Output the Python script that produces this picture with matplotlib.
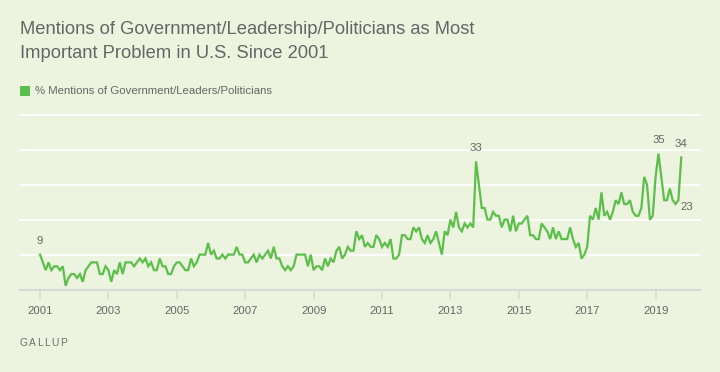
#!/usr/bin/env python3
"""
Gallup chart: mentions of government/leadership/politicians as the
most important problem in the U.S., monthly since 2001.
"""
import matplotlib
matplotlib.use("Agg")
import matplotlib.pyplot as plt
from matplotlib.patches import Rectangle
import numpy as np

# Monthly % mentions, Jan 2001 - Oct 2019
pct_2001_2005 = [
    9, 7, 5, 7, 5, 6, 6, 5, 6, 1, 3, 4,
    4, 3, 4, 2, 5, 6, 7, 7, 7, 4, 4, 6,
    5, 2, 5, 4, 7, 4, 7, 7, 7, 6, 7, 8,
    7, 8, 6, 7, 5, 5, 8, 6, 6, 4, 4, 6,
    7, 7, 6, 5, 5, 8, 6, 7, 9, 9, 9, 12,
]
pct_2006_2010 = [
    9, 10, 8, 8, 9, 8, 9, 9, 9, 11, 9, 9,
    7, 7, 8, 9, 7, 9, 8, 9, 10, 8, 11, 8,
    8, 6, 5, 6, 5, 6, 9, 9, 9, 9, 6, 9,
    5, 6, 6, 5, 8, 6, 8, 7, 10, 11, 8, 9,
    11, 10, 10, 15, 13, 14, 11, 12, 11, 11, 14, 13,
]
pct_2011_2015 = [
    11, 12, 11, 13, 8, 8, 9, 14, 14, 13, 13, 16,
    15, 16, 13, 12, 14, 12, 13, 15, 12, 9, 15, 14,
    18, 16, 20, 16, 15, 17, 16, 17, 16, 33, 27, 21,
    21, 18, 18, 20, 19, 19, 16, 18, 18, 15, 19, 15,
    17, 17, 18, 19, 14, 14, 13, 13, 17, 16, 15, 13,
]
pct_2016_2019 = [
    16, 13, 15, 13, 13, 13, 16, 13, 11, 12, 8, 9,
    11, 19, 18, 21, 18, 25, 19, 20, 18, 20, 23, 22,
    25, 22, 22, 23, 20, 19, 19, 21, 29, 27, 18, 19,
    29, 35, 29, 23, 23, 26, 23, 22, 23, 34,
]

START_YEAR = 2001
TICK_YEARS = list(range(2001, 2020, 2))
GRID_VALUES = [9, 18, 27, 36, 45]

# (month index, label, placement) for the annotated points
LABELLED = [(0, "above"), (153, "above"), (217, "above"), (225, "above"), (224, "right")]

SERIES_NAME = "% Mentions of Government/Leaders/Politicians"
TITLE_LINES = ["Mentions of Government/Leadership/Politicians as Most",
               "Important Problem in U.S. Since 2001"]

BG = "#ecf3df"
GREEN = "#5cbf4b"
GREY_TEXT = "#666666"
AXIS_GREY = "#d9d9d9"
FONT = "Liberation Sans"

W, H = 720, 372


def px_x(x):
    return x / W


def px_y(y):
    return 1 - y / H


def spaced_text(fig, x, y, s, spacing, **kw):
    """Draw text letter by letter with extra tracking (pixels)."""
    renderer = fig.canvas.get_renderer()
    cur = x
    for ch in s:
        t = fig.text(px_x(cur), px_y(y), ch, **kw)
        bb = t.get_window_extent(renderer=renderer)
        cur += bb.width + spacing


def main():
    values = np.array(pct_2001_2005 + pct_2006_2010 + pct_2011_2015 + pct_2016_2019)
    years = START_YEAR + np.arange(len(values)) / 12.0

    fig = plt.figure(figsize=(W / 100, H / 100), dpi=100, facecolor=BG)
    ax = fig.add_axes([px_x(20), px_y(289.6), px_x(680), (289.6 - 114.7) / H])
    ax.set_facecolor(BG)

    # title + legend
    fig.text(px_x(20), px_y(34.3), TITLE_LINES[0], fontsize=13.2, color=GREY_TEXT,
             family=FONT, va="baseline")
    fig.text(px_x(20), px_y(58.3), TITLE_LINES[1], fontsize=13.2, color=GREY_TEXT,
             family=FONT, va="baseline")
    fig.add_artist(Rectangle((px_x(20), px_y(96)), 10 / W, 10 / H,
                             transform=fig.transFigure, color=GREEN, lw=0))
    fig.text(px_x(35), px_y(91), SERIES_NAME, fontsize=8.2, color=GREY_TEXT,
             family=FONT, va="center")

    # grid
    for g in GRID_VALUES:
        ax.axhline(g, color="white", lw=1.3, zorder=1, clip_on=False)

    ax.plot(years, values, color=GREEN, lw=1.6, zorder=3, solid_joinstyle="miter")

    for idx, where in LABELLED:
        if where == "above":
            ax.annotate(str(values[idx]), (years[idx], values[idx]),
                        xytext=(0, 9.6), textcoords="offset points",
                        ha="center", va="center", fontsize=8.2,
                        color=GREY_TEXT, family=FONT)
        else:
            ax.annotate(str(values[idx]), (years[idx], values[idx]),
                        xytext=(1.2, -5.0), textcoords="offset points",
                        ha="left", va="center", fontsize=8.2,
                        color=GREY_TEXT, family=FONT)

    ax.set_xlim(2001 - 20 / 34.2, 2001 + 660 / 34.2)
    ax.set_ylim(0, 45)
    ax.set_yticks([])
    ax.set_xticks(TICK_YEARS)
    ax.set_xticklabels([str(y) for y in TICK_YEARS], fontsize=8.1,
                       color=GREY_TEXT, family=FONT)
    ax.tick_params(axis="x", length=6.5, width=1.1, color=AXIS_GREY, pad=5)

    for side in ["top", "left", "right"]:
        ax.spines[side].set_visible(False)
    ax.spines["bottom"].set_color(AXIS_GREY)
    ax.spines["bottom"].set_linewidth(1.5)

    spaced_text(fig, 20, 345.7, "GALLUP", 1.3, fontsize=7.4, color="#707070",
                family=FONT, va="baseline")

    fig.savefig("out.png", dpi=100, facecolor=BG)


if __name__ == "__main__":
    main()
